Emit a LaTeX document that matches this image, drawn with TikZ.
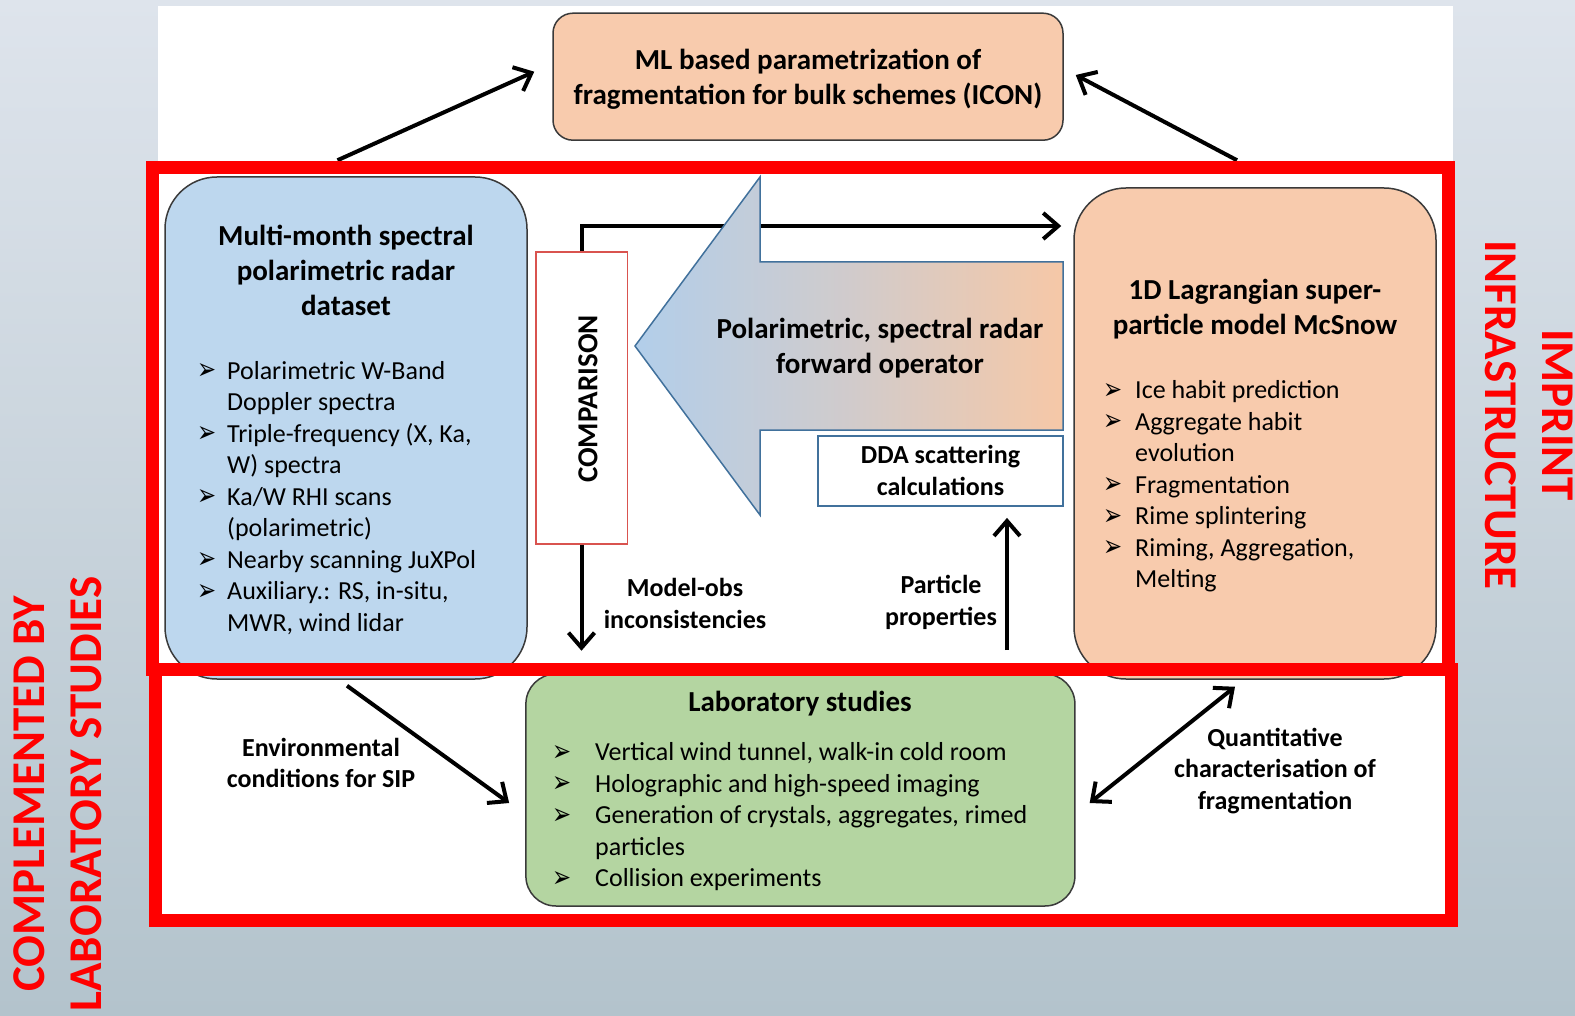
\documentclass[tikz,border=0pt]{standalone}
\usepackage{fontspec}
\usepackage{graphicx}
\setmainfont{Carlito}
\newfontfamily\symfont{DejaVu Sans}
\usetikzlibrary{arrows.meta}

\definecolor{bgtop}{HTML}{DEE4EC}
\definecolor{bgbot}{HTML}{B3C3CC}
\definecolor{boxblue}{HTML}{BDD7EE}
\definecolor{boxpeach}{HTML}{F8CBAD}
\definecolor{boxgreen}{HTML}{B4D5A1}
\definecolor{edgegray}{HTML}{3A3A3A}
\definecolor{arrblue}{HTML}{B2CEEA}
\definecolor{arrpeach}{HTML}{F6C8A7}
\definecolor{linkblue}{HTML}{41719C}
\definecolor{cmpred}{HTML}{D9534F}
\definecolor{imred}{HTML}{FF0000}

\newcommand\bsymb{\raisebox{-0.5pt}{\scalebox{0.95}[1.25]{\symfont\fontsize{24}{24}\selectfont ➢}}}
\newcommand\bsy[1]{\makebox[#1][l]{\bsymb}}
\newcommand\bsp[1]{\hspace*{#1}}

\tikzset{
  box/.style={draw=edgegray, line width=1.5pt, inner sep=0pt},
  ttl/.style={inner sep=0pt, font=\bfseries\fontsize{29}{35}\selectfont},
  lbl/.style={inner sep=0pt, font=\bfseries\fontsize{26}{31.5}\selectfont},
  lst/.style={inner sep=0pt, anchor=west, font=\fontsize{26}{31.45}\selectfont},
  arr/.style={line width=4pt, -{Straight Barb[length=15pt,width=26pt]}},
  dbl/.style={line width=4pt, {Straight Barb[length=15pt,width=26pt]}-{Straight Barb[length=15pt,width=26pt]}},
  redbox/.style={draw=imred, line width=13pt},
  redtxt/.style={text=imred, inner sep=0pt, font=\bfseries\fontsize{47}{57}\selectfont}
}

\begin{document}
\begin{tikzpicture}[x=1pt,y=-1pt]
\useasboundingbox (0,0) rectangle (1575,1016);
\fill[top color=bgtop, bottom color=bgbot] (0,0) rectangle (1575,1016);
\fill[white] (158,6) rectangle (1453,920);

% boxes
\node[box, fill=boxpeach, rounded corners=20pt, minimum width=510pt, minimum height=127pt] (ml) at (808,76.7) {};
\node[box, fill=boxblue, rounded corners=52pt, minimum width=362pt, minimum height=502pt] (blue) at (346,428) {};
\node[box, fill=boxpeach, rounded corners=52pt, minimum width=362pt, minimum height=491pt] (mcs) at (1255,433.5) {};
\node[box, fill=boxgreen, rounded corners=30pt, minimum width=549pt, minimum height=232pt] (lab) at (800.4,790) {};
\node[draw=cmpred, line width=1.5pt, fill=white, inner sep=0pt, minimum width=91.5pt, minimum height=292pt] (cmp) at (581.5,398) {};

% comparison loop line (behind the big arrow)
\coordinate (topy) at (0,226);
\draw[arr, shorten >=12pt] (cmp.north) |- (mcs.west |- topy);

% big forward-operator arrow
\coordinate (fa1) at (635,346);
\coordinate (fa2) at (760,177);
\coordinate (fa3) at (760,262);
\coordinate (fa4) at (1063,262);
\coordinate (fa5) at (1063,430);
\coordinate (fa6) at (760,430);
\coordinate (fa7) at (760,515);
\path[draw=linkblue, line width=1.5pt, left color=arrblue, right color=arrpeach, middle color=arrblue!55!arrpeach]
  (fa1) -- (fa2) -- (fa3) -- (fa4) -- (fa5) -- (fa6) -- (fa7) -- cycle;

\node[draw=linkblue, line width=1.8pt, fill=white, inner sep=0pt, minimum width=245pt, minimum height=70pt] (dda) at (940.5,471) {};

% connectors
\draw[arr] ([shift={(-8.5,-16)}]blue.north) -- ([shift={(-18,-5)}]ml.west);
\draw[arr] ([shift={(-18,-27)}]mcs.north) -- ([shift={(12,-1.7)}]ml.east);
\draw[arr] (cmp.south) -- ++(0,106);
\coordinate (pp) at (1007,650);
\draw[arr, shorten >=11pt] (pp) -- (pp |- dda.south);
\draw[arr] ([shift={(1,6)}]blue.south) -- ([shift={(-16,13)}]lab.west);
\draw[dbl] ([shift={(14,13)}]lab.east) -- ([shift={(-20,7)}]mcs.south);

% red frames
\draw[redbox] (155,669.5) rectangle (1451,920);
\draw[redbox] (152.5,167.5) rectangle (1448.5,669.5);

% texts
\node[ttl] (mlt) at (808,79.7) {\begin{tabular}{@{}c@{}}ML based parametrization of\\fragmentation for bulk schemes (ICON)\end{tabular}};
\node[ttl] (bluet) at (346,273.4) {\begin{tabular}{@{}c@{}}Multi-month spectral\\polarimetric radar\\dataset\end{tabular}};
\node[ttl] (mcst) at (1255,310) {\begin{tabular}{@{}c@{}}1D Lagrangian super-\\particle model McSnow\end{tabular}};
\node[ttl] (fwdt) at (880,349) {\begin{tabular}{@{}c@{}}Polarimetric, spectral radar\\forward operator\end{tabular}};
\node[ttl] (labt) at (800,703.4) {Laboratory studies};
\node[inner sep=0pt, rotate=90, font=\bfseries\fontsize{29}{35}\selectfont] (cmpt) at (588,399) {COMPARISON};
\node[lbl] (ddat) at (940.5,473) {\begin{tabular}{@{}c@{}}DDA scattering\\calculations\end{tabular}};
\node[lbl] (mot) at (685,606) {\begin{tabular}{@{}c@{}}Model-obs\\inconsistencies\end{tabular}};
\node[lbl] (ppt) at (941,603) {\begin{tabular}{@{}c@{}}Particle\\properties\end{tabular}};
\node[lbl] (envt) at (321,765.5) {\begin{tabular}{@{}c@{}}Environmental\\conditions for SIP\end{tabular}};
\node[lbl] (qt) at (1275,771.5) {\begin{tabular}{@{}c@{}}Quantitative\\characterisation of\\fragmentation\end{tabular}};

\node[lst] (bluel) at (197,499) {\begin{tabular}{@{}l@{}}
\bsy{30pt}Polarimetric W-Band\\
\bsp{30pt}Doppler spectra\\
\bsy{30pt}Triple-frequency (X, Ka,\\
\bsp{30pt}W) spectra\\
\bsy{30pt}Ka/W RHI scans\\
\bsp{30pt}(polarimetric)\\
\bsy{30pt}Nearby scanning JuXPol\\
\bsy{30pt}Auxiliary.: RS, in-situ,\\
\bsp{30pt}MWR, wind lidar
\end{tabular}};

\node[lst] (mcsl) at (1103,487) {\begin{tabular}{@{}l@{}}
\bsy{32pt}Ice habit prediction\\
\bsy{32pt}Aggregate habit\\
\bsp{32pt}evolution\\
\bsy{32pt}Fragmentation\\
\bsy{32pt}Rime splintering\\
\bsy{32pt}Riming, Aggregation,\\
\bsp{32pt}Melting
\end{tabular}};

\node[lst] (labl) at (552,817.5) {\begin{tabular}{@{}l@{}}
\bsy{43pt}Vertical wind tunnel, walk-in cold room\\
\bsy{43pt}Holographic and high-speed imaging\\
\bsy{43pt}Generation of crystals, aggregates, rimed\\
\bsp{43pt}particles\\
\bsy{43pt}Collision experiments
\end{tabular}};

\node[redtxt, rotate=90] (sidel) at (62,794) {\begin{tabular}{@{}c@{}}COMPLEMENTED BY\\LABORATORY STUDIES\end{tabular}};
\node[redtxt, rotate=-90] (sider) at (1525,415) {\begin{tabular}{@{}c@{}}IMPRINT\\INFRASTRUCTURE\end{tabular}};
\end{tikzpicture}
\end{document}
